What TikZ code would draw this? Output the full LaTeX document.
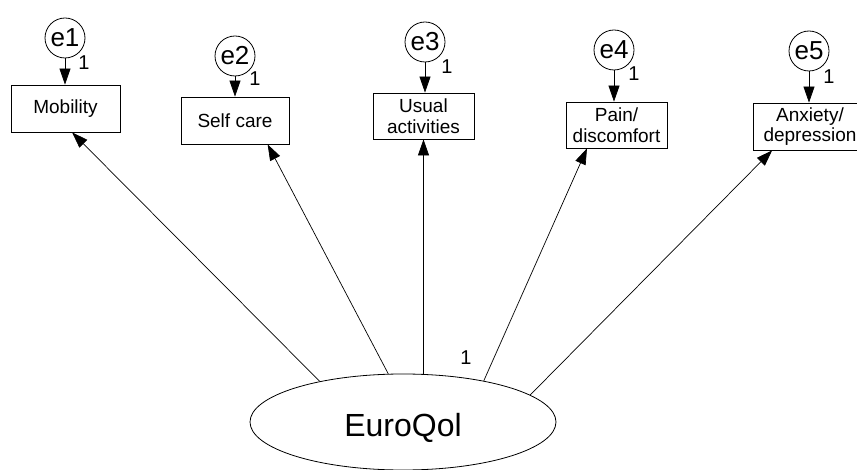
\documentclass[tikz,border=0pt]{standalone}
\usepackage{fontspec}
\setmainfont{Liberation Sans}
\usetikzlibrary{shapes.geometric,arrows.meta,calc}

\begin{document}
\begin{tikzpicture}[x=1pt,y=-1pt,
  obs/.style={draw, line width=0.8pt, inner sep=0pt, align=center,
              font=\fontsize{19}{20.5}\selectfont},
  err/.style={draw, circle, line width=0.8pt, minimum size=40pt, inner sep=0pt,
              font=\fontsize{26}{28}\selectfont},
  lat/.style={draw, ellipse, line width=0.8pt, minimum width=306pt, minimum height=96pt,
              inner sep=0pt},
  regarrow/.style={line width=0.7pt, -{Triangle[length=16pt,width=11pt]}},
  one/.style={font=\fontsize{20}{22}\selectfont, inner sep=0pt}]

\useasboundingbox (0,0) rectangle (857,470);

% observed indicators
\node[obs, minimum width=109pt, minimum height=47pt] (mob) at (65.5,108.5) {Mobility};
\node[obs, minimum width=108pt, minimum height=47pt] (self) at (235,120.5) {Self care};
\node[obs, minimum width=101pt, minimum height=46pt] (usual) at (423.5,116) {Usual\\activities};
\node[obs, minimum width=101pt, minimum height=46pt] (pain) at (616.5,125) {Pain/\\discomfort};
\node[obs, minimum width=114pt, minimum height=47pt] (anx) at (810,126.5) {Anxiety/\\depression};

% error terms
\node[err] (e1) at (65,38) {e1};
\node[err] (e2) at (235,56) {e2};
\node[err] (e3) at (425,42) {e3};
\node[err] (e4) at (614,50) {e4};
\node[err] (e5) at (809,51) {e5};

% latent factor
\node[lat, label={[font=\fontsize{32}{36}\selectfont, yshift=-6pt]center:EuroQol}] (eq) at (403,422) {};

% error paths
\foreach \e/\o in {e1/mob, e2/self, e3/usual, e4/pain, e5/anx}
  \draw[regarrow] (\e.south) -- (\e.south |- \o.north);

\node[one] (w1) at (84,63) {1};
\node[one] (w2) at (255,79) {1};
\node[one] (w3) at (447,67) {1};
\node[one] (w4) at (634,74) {1};
\node[one] (w5) at (829,77) {1};

% factor loadings
\draw[regarrow] (eq.154.8) -- ($(mob.south west)!0.56!(mob.south east)$);
\draw[regarrow] (eq.107.4) -- ($(self.south west)!0.8!(self.south east)$);
\draw[regarrow] (eq.north -| usual.south) -- (usual.south);
\draw[regarrow] (eq.27.7) -- ($(pain.south west)!0.21!(pain.south east)$);
\draw[regarrow] (eq.12.6) -- ($(anx.south west)!0.17!(anx.south east)$);

\node[one] (w0) at (466,358) {1};
\end{tikzpicture}
\end{document}
